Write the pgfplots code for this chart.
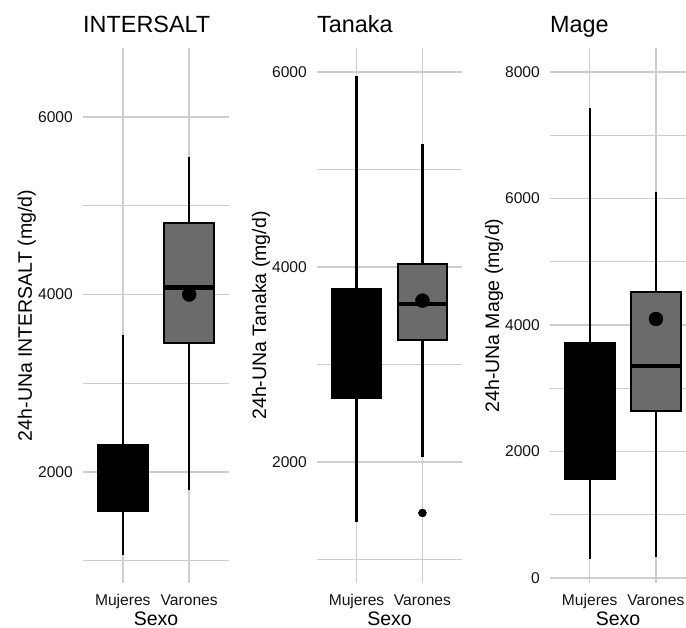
\documentclass[border=0pt]{standalone}
\usepackage{fontspec}
\setmainfont{Liberation Sans}
\usepackage{pgfplots}
\pgfplotsset{compat=1.18}
\definecolor{gridgray}{RGB}{206,206,206}
\definecolor{boxgray}{RGB}{107,107,107}
\definecolor{txt}{RGB}{20,20,20}
\newcommand{\tf}{\fontsize{15.6bp}{18bp}\selectfont}
\pgfplotsset{
  panel/.style={
    scale only axis, height=535bp,
    axis lines*=left, axis line style={draw=none},
    major tick length=0pt, minor tick length=0pt,
    xtick={1,2}, xticklabels={{\tf Mujeres},{\tf Varones}},
    xmajorgrids=true, ymajorgrids=true, yminorgrids=true,
    major grid style={color=gridgray, line width=1.5bp},
    minor grid style={color=gridgray, line width=1.2bp},
    tick label style={inner sep=0pt, text=txt},
    yticklabel style={anchor=east, xshift=-10bp, inner sep=0pt},
    xticklabel style={anchor=base, yshift=-22bp, inner sep=0pt},
    xlabel={Sexo},
    every axis x label/.style={at={(axis description cs:0.5,0)}, anchor=base, yshift=-42bp, inner sep=0pt, font=\fontsize{19.5bp}{22bp}\selectfont},
    every axis y label/.style={at={(axis description cs:0,0.5)}, xshift=-51bp, rotate=90, anchor=base, inner sep=0pt, font=\fontsize{19.5bp}{22bp}\selectfont},
    every axis title/.style={at={(axis description cs:0,1)}, anchor=base west, yshift=15bp, inner sep=0pt, font=\fontsize{23.4bp}{26bp}\selectfont},
  },
  whisk/.style={line width=2.3bp, black},
  mbox/.style={fill=black, draw=black, line width=2bp},
  vbox/.style={fill=boxgray, draw=black, line width=2bp},
  meanpt/.style={only marks, mark=*, mark size=7bp, black},
  medline/.style={line width=4.3bp, black},
}
\begin{document}
\begin{tikzpicture}
\useasboundingbox (0,0) rectangle (686bp,628bp);
% ---------------- INTERSALT ----------------
% Mujeres: lw 1065, lq 1561, med 1900, uq 2304, uw 3544
% Varones: lw 1797, lq 3459, med 4079, uq 4800, uw 5544, mean 4000
\begin{axis}[panel, at={(83bp,45bp)}, anchor=south west, width=146bp,
  xmin=0.4, xmax=2.6, ymin=750, ymax=6777,
  ytick={2000,4000,6000}, yticklabels={{\tf 2000},{\tf 4000},{\tf 6000}},
  minor ytick={1000,3000,5000},
  ylabel={24h-UNa INTERSALT (mg/d)}, title={INTERSALT}]
\addplot[whisk] coordinates {(1,1065) (1,1561)};
\addplot[whisk] coordinates {(1,2304) (1,3544)};
\addplot[mbox] coordinates {(0.625,1561) (1.375,1561) (1.375,2304) (0.625,2304)} -- cycle;
\addplot[medline] coordinates {(0.625,1900) (1.375,1900)};
\addplot[whisk] coordinates {(2,1797) (2,3459)};
\addplot[whisk] coordinates {(2,4800) (2,5544)};
\addplot[vbox] coordinates {(1.625,3459) (2.375,3459) (2.375,4800) (1.625,4800)} -- cycle;
\addplot[meanpt] coordinates {(1,1950) (2,4000)};
\addplot[medline] coordinates {(1.625,4079) (2.375,4079)};
\end{axis}
% ---------------- Tanaka ----------------
\begin{axis}[panel, at={(317bp,45bp)}, anchor=south west, width=145bp,
  xmin=0.4, xmax=2.6, ymin=759, ymax=6246,
  ytick={2000,4000,6000}, yticklabels={{\tf 2000},{\tf 4000},{\tf 6000}},
  minor ytick={1000,3000,5000},
  ylabel={24h-UNa Tanaka (mg/d)}, title={Tanaka}]
\addplot[whisk] coordinates {(1,1385) (1,2656)};
\addplot[whisk] coordinates {(1,3774) (1,5959)};
\addplot[mbox] coordinates {(0.625,2656) (1.375,2656) (1.375,3774) (0.625,3774)} -- cycle;
\addplot[medline] coordinates {(0.625,3200) (1.375,3200)};
\addplot[whisk] coordinates {(2,2051) (2,3251)};
\addplot[whisk] coordinates {(2,4031) (2,5262)};
\addplot[vbox] coordinates {(1.625,3251) (2.375,3251) (2.375,4031) (1.625,4031)} -- cycle;
\addplot[meanpt] coordinates {(1,3250) (2,3655)};
\addplot[medline] coordinates {(1.625,3620) (2.375,3620)};
\addplot[only marks, mark=*, mark size=4bp, black] coordinates {(2,1477)};
\end{axis}
% ---------------- Mage ----------------
\begin{axis}[panel, at={(550bp,45bp)}, anchor=south west, width=136bp,
  xmin=0.4, xmax=2.4545, ymin=-79, ymax=8379,
  ytick={0,2000,4000,6000,8000}, yticklabels={{\tf 0},{\tf 2000},{\tf 4000},{\tf 6000},{\tf 8000}},
  minor ytick={1000,3000,5000,7000},
  ylabel={24h-UNa Mage (mg/d)}, title={Mage}]
\addplot[whisk] coordinates {(1,300) (1,1573)};
\addplot[whisk] coordinates {(1,3715) (1,7431)};
\addplot[mbox] coordinates {(0.625,1573) (1.375,1573) (1.375,3715) (0.625,3715)} -- cycle;
\addplot[medline] coordinates {(0.625,2600) (1.375,2600)};
\addplot[whisk] coordinates {(2,332) (2,2648)};
\addplot[whisk] coordinates {(2,4522) (2,6095)};
\addplot[vbox] coordinates {(1.625,2648) (2.375,2648) (2.375,4522) (1.625,4522)} -- cycle;
\addplot[meanpt] coordinates {(1,2700) (2,4095)};
\addplot[medline] coordinates {(1.625,3352) (2.375,3352)};
\end{axis}
\end{tikzpicture}
\end{document}
